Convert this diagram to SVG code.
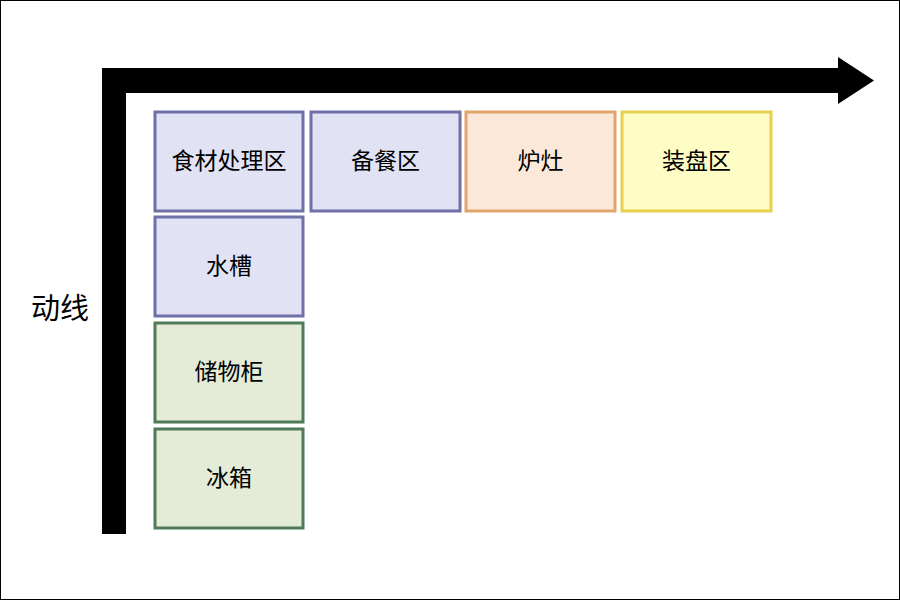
<svg xmlns="http://www.w3.org/2000/svg" width="900" height="600" viewBox="0 0 900 600">
<style>
.b{stroke-width:3}
.p{fill:#e1e3f5;stroke:#6f70a8}
.o{fill:#fbe8d8;stroke:#e2a46c}
.y{fill:#fefdc6;stroke:#e6d04e}
.g{fill:#e4ebd6;stroke:#4f7b57}
text{font-family:"Noto Sans CJK SC",sans-serif;font-size:23px;text-anchor:middle;dominant-baseline:central;fill:#000}
</style>
<rect x="0.5" y="0.5" width="899" height="599" fill="#fff" stroke="#000"/>
<g id="connectors">
<path d="M102,534 V68 H838 V57 L874,80.5 L838,104 V93 H126 V534 Z" fill="#000"/>
</g>
<text x="60" y="306" style="font-size:29px">动线</text>
<g id="n1"><rect class="b p" x="155" y="112" width="148" height="99"/><text x="229" y="158.5">食材处理区</text></g>
<g id="n2"><rect class="b p" x="311" y="112" width="149" height="99"/><text x="385.5" y="158.5">备餐区</text></g>
<g id="n3"><rect class="b o" x="466" y="112" width="149" height="99"/><text x="540.5" y="158.5">炉灶</text></g>
<g id="n4"><rect class="b y" x="622" y="112" width="149" height="99"/><text x="696.5" y="158.5">装盘区</text></g>
<g id="n5"><rect class="b p" x="155" y="217" width="148" height="99"/><text x="229" y="263.5">水槽</text></g>
<g id="n6"><rect class="b g" x="155" y="323" width="148" height="99"/><text x="229" y="369.5">储物柜</text></g>
<g id="n7"><rect class="b g" x="155" y="429" width="148" height="99"/><text x="229" y="475.5">冰箱</text></g>
</svg>
